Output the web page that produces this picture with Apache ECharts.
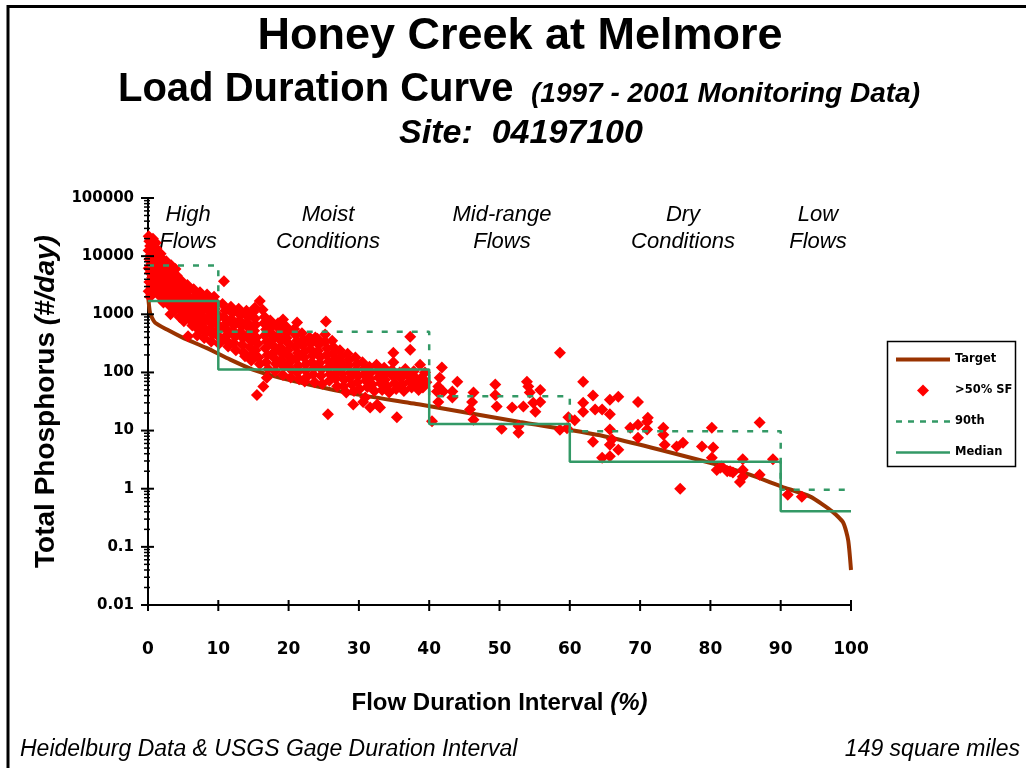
<!DOCTYPE html>
<html>
<head>
<meta charset="utf-8">
<script src="https://cdn.jsdelivr.net/npm/echarts@6/dist/echarts.min.js"></script>
<style>
  html, body { margin: 0; padding: 0; background: #fff; }
  #chart { width: 1026px; height: 768px; }
</style>
</head>
<body>
<div id="chart"></div>
<script>
// flow duration interval (%) ticks and log-axis labels
const xTickValues = [0, 10, 20, 30, 40, 50, 60, 70, 80, 90, 100]
const yTickValues = [0.01, 0.1, 1, 10, 100, 1000, 10000, 100000]
const yTickLabels = ['0.01', '0.1', '1', '10', '100', '1000', '10000', '100000']

// target load curve
const targetX = [0, 0.3, 1.0, 2.7, 5.0, 8.3, 11.7, 14.9, 18.8, 28.3, 38.7, 52.9, 64.3, 80.9, 85.6, 90.2, 94.2, 97.4, 98.9, 99.6, 100]
const targetY = [2200, 1050, 720, 545, 393, 264, 166, 112, 81, 45, 28, 14, 8.3, 2.6, 1.74, 1.08, 0.73, 0.40, 0.26, 0.13, 0.04]

// zone breaks and step values
const zoneBreaks = [0, 10, 40, 60, 90, 100]
const p90Values = [6900, 500, 39, 9.7, 0.96]
const medianValues = [1700, 112, 13, 2.9, 0.41]

// >50% SF observations [flow %, load]
const sfPoints = [
  [0.1,22000],[0.2,18000],[0.3,15000],[0.1,12500],[0.4,10500],[0.2,8800],[0.5,7500],[0.1,6200],[0.3,5200],[0.6,4300],
  [0.2,3600],[0.4,3000],[0.1,2500],[0.5,2200],[0.7,20000],[0.8,16000],[0.9,12000],[0.7,9000],[1.0,7000],[0.9,5500],
  [0.8,4200],[1.0,3300],[0.9,2600],[1.1,17000],[1.2,13500],[1.3,10000],[1.2,7800],[1.4,6000],[1.3,4600],[1.5,3500],
  [1.4,2700],[1.6,2100],[0.3,2000],[0.6,2400],
  [1.8,11000],[2.0,9000],[2.2,7000],[1.9,5600],[2.1,4400],[2.3,3400],[2.0,2600],[2.4,2000],[2.2,1600],[2.6,8200],
  [2.8,6400],[2.7,5000],[2.9,3900],[2.6,3000],[3.0,2300],[2.8,1800],[3.1,1400],[3.3,7000],[3.5,5500],[3.4,4200],
  [3.6,3200],[3.3,2500],[3.7,1900],[3.5,1500],[3.8,1150],[3.9,6000],[4.1,4600],[4.0,3500],[4.2,2700],[4.3,2100],
  [4.0,1650],[4.4,1300],[3.2,1000],[4.5,900],
  [4.7,3800],[5.0,3000],[5.2,2400],[4.8,1900],[5.3,1500],[5.0,1200],[5.4,950],[5.1,760],[5.6,3200],[5.8,2600],
  [5.7,2000],[6.0,1600],[5.9,1250],[6.2,1000],[6.0,800],[6.3,640],[5.7,420],[6.5,2700],[6.7,2100],[6.6,1700],
  [6.9,1350],[6.8,1050],[7.1,850],[6.9,680],[7.2,540],[7.0,430],
  [7.4,2400],[7.6,1900],[7.5,1500],[7.8,1200],[7.7,950],[8.0,760],[7.9,600],[8.2,480],[8.0,390],[8.4,2200],
  [8.6,1750],[8.5,1400],[8.8,1100],[8.7,880],[9.0,700],[8.9,560],[9.2,450],[9.0,340],[9.4,2000],[9.6,1600],
  [9.5,1250],[9.8,1000],[9.7,800],[10.0,640],[9.9,510],[10.2,400],[10.1,310],[10.8,3700],
  [10.6,1500],[11.0,1150],[10.8,900],[11.2,720],[11.0,570],[11.3,450],[11.1,360],[11.4,280],[11.8,1350],[12.0,1050],
  [11.9,820],[12.2,650],[12.1,520],[12.4,410],[12.2,320],[12.5,240],[12.9,1250],[13.1,980],[13.0,780],[13.3,620],
  [13.2,490],[13.5,390],[13.4,300],[13.6,220],[13.8,190],[14.0,1150],[14.2,900],[14.1,720],[14.4,570],[14.3,450],
  [14.6,350],[14.5,270],[14.8,200],[14.7,160],[15.0,1100],[15.2,850],[15.3,660],[15.1,520],[15.4,400],[15.6,310],
  [15.3,240],[15.7,180],[15.9,140],[15.5,41],[16.4,57],[16.9,81],
  [15.9,1700],[15.2,1300],[16.3,1200],[16.6,900],[16.5,700],[16.8,550],[16.6,430],[16.9,340],[16.7,260],[17.0,200],
  [16.8,150],[17.1,115],[17.4,780],[17.6,620],[17.5,480],[17.8,380],[17.7,300],[18.0,230],[17.9,180],[18.2,140],
  [18.1,105],[18.5,700],[18.7,560],[18.6,440],[18.9,350],[18.8,270],[19.1,210],[19.0,165],[19.3,125],[19.2,90],
  [19.6,620],[19.8,490],[19.7,390],[20.0,310],[19.9,240],[20.2,185],[20.1,145],[20.4,110],[20.3,82],[19.2,810],
  [21.2,720],
  [20.8,560],[21.0,440],[21.2,350],[21.0,275],[21.3,215],[21.1,170],[21.4,130],[21.2,100],[21.5,76],[21.9,470],
  [22.1,370],[22.0,290],[22.3,230],[22.2,180],[22.5,140],[22.4,108],[22.6,84],[22.3,70],[23.0,400],[23.2,320],
  [23.1,250],[23.4,195],[23.3,150],[23.6,118],[23.5,92],[23.7,68],[23.8,400],[24.1,380],[24.3,300],[24.2,235],
  [24.5,185],[24.4,145],[24.7,112],[24.6,88],[24.8,64],[25.3,750],[25.2,450],[25.2,340],[25.5,260],[25.4,200],
  [25.7,155],[25.6,120],[25.9,93],[25.8,72],[25.6,19],[26.2,350],[26.4,270],[26.3,210],[26.6,165],[26.5,128],
  [26.8,100],[26.7,78],[26.9,58],
  [27.3,240],[27.5,190],[27.4,150],[27.7,120],[27.6,95],[27.9,75],[27.8,58],[28.2,45],[28.4,210],[28.6,165],
  [28.5,130],[28.8,100],[28.7,80],[29.0,62],[29.2,28],[29.3,48],[29.5,180],[29.7,140],[29.6,110],[29.9,88],
  [29.8,68],[30.1,52],[30.6,31],[30.5,150],[30.8,118],[30.7,92],[31.0,72],[30.9,37],[31.2,56],[31.6,25],
  [31.5,125],[31.7,100],[31.6,78],[31.9,62],[32.2,48],[32.6,28],[32.5,135],[32.7,105],[32.8,82],[33.0,25],
  [33.1,65],[33.3,50],[33.6,120],[33.8,95],[33.7,75],[34.0,58],[34.3,45],[34.9,218],[34.9,150],[34.7,110],
  [34.9,85],[35.1,66],[35.4,17],[35.3,52],[35.8,100],[36.0,80],[36.2,62],[36.4,48],[36.6,115],[37.3,410],
  [37.3,246],[37.0,90],[37.2,70],[37.5,55],[37.8,105],[38.0,82],[38.2,64],[38.7,136],[38.5,50],[38.9,81],
  [39.1,55],[39.4,100],[39.6,68],
  [40.4,14.4],[41.8,121],[41.5,81],[41.3,57],[41.1,47],[42.0,47],[41.3,31],[43.3,37],[43.3,47],[44.0,69],
  [46.3,45],[46.1,31],[45.8,23],[46.3,15.4],[49.4,62],[49.4,41],[49.6,26],[50.3,10.8],[51.8,25],[52.7,12],
  [52.7,9.2],[53.4,26],[53.9,69],[54.1,57],[54.3,45],[54.8,30],[55.1,21],[55.8,50],[55.8,31],[58.6,218],
  [58.6,10.3],[59.8,17],[59.6,11],[60.7,15],[61.9,69],[61.9,30],[61.9,21],[63.3,40],[63.6,23],[63.3,6.4],
  [64.6,23],[65.7,34],[65.7,19],[66.9,38],[65.7,10.4],[64.6,3.4],[66.0,7],[65.7,5.7],[65.7,3.6],[66.9,4.7],
  [69.7,31],[68.6,11.2],[69.7,12.6],[69.7,7.5],[71.0,14.2],[71.1,16.6],[71.0,10.4],[73.3,11.2],[73.3,8.5],[73.5,5.7],
  [75.2,5.3],[76.1,6.2],[75.7,1.0],[78.8,5.3],[80.2,11.2],[80.4,5.1],[80.2,3.4],[80.9,2.1],[81.6,2.4],[82.4,2.0],
  [81.4,2.3],[82.8,2.0],[83.2,1.9],[84.6,3.2],[84.6,2.1],[84.2,1.3],[84.6,1.6],[87.0,1.74],[87.0,13.7],[88.9,3.2],
  [91.0,0.79],[93.0,0.73]
]

function stepLine(values) {
  const pts = []
  values.forEach((v, i) => {
    pts.push([zoneBreaks[i], v])
    pts.push([zoneBreaks[i + 1], v])
  })
  return pts
}

// log-style minor ticks for the y axis
const yMinorTicks = []
yTickValues.slice(0, -1).forEach((d) => {
  for (let m = 2; m < 10; m++) yMinorTicks.push(+(d * m).toPrecision(3))
})
const tickMarks = yTickValues.map((v) => [0, v, 1])
  .concat(yMinorTicks.map((v) => [0, v, 0]))
  .concat(xTickValues.map((v) => [v, 0.01, 2]))

const GREEN = '#339966'
const BROWN = '#993300'
const sans = 'Liberation Sans'

// legend swatches: plain bars / dashes instead of the default line+circle
let dashIcon = 'path://'
for (let i = 0; i < 5; i++) dashIcon += 'M' + (i * 12) + ' 0H' + (i * 12 + 6) + 'V2.5H' + (i * 12) + 'Z'

function txt(text, x, y, size, opts) {
  opts = opts || {}
  return {
    type: 'text', x: x, y: y, silent: true,
    style: {
      text: text,
      fontFamily: sans,
      fontSize: size,
      fontWeight: opts.weight || 'normal',
      fontStyle: opts.style || 'normal',
      lineHeight: opts.lineHeight,
      fill: '#000',
      textAlign: opts.align || 'center', align: opts.align || 'center',
      textVerticalAlign: 'middle', verticalAlign: 'middle',
    },
  }
}

const chart = echarts.init(document.getElementById('chart'))
chart.setOption({
  animation: false,
  backgroundColor: '#fff',
  grid: { left: 148, right: 175, top: 198, bottom: 163 },
  xAxis: {
    type: 'value',
    min: 0,
    max: 100,
    interval: 10,
    name: '{b|Flow Duration Interval}  {i|(%)}',
    nameLocation: 'middle',
    nameGap: 86,
    nameTextStyle: {
      rich: {
        b: { fontFamily: sans, fontWeight: 'bold', fontSize: 24, color: '#000' },
        i: { fontFamily: sans, fontWeight: 'bold', fontStyle: 'italic', fontSize: 24, color: '#000' },
      },
    },
    axisLine: { lineStyle: { color: '#000', width: 2 } },
    axisTick: { show: false },
    splitLine: { show: false },
    axisLabel: {
      margin: 36,
      color: '#000',
      fontFamily: 'DejaVu Sans',
      fontWeight: 'bold',
      fontSize: 17,
    },
  },
  yAxis: {
    type: 'log',
    logBase: 10,
    min: 0.01,
    max: 100000,
    splitNumber: 7,
    name: '{b|Total Phosphorus}  {i|(#/day)}',
    nameLocation: 'middle',
    nameGap: 76,
    nameTextStyle: {
      rich: {
        b: { fontFamily: sans, fontWeight: 'bold', fontSize: 28, color: '#000' },
        i: { fontFamily: sans, fontWeight: 'bold', fontStyle: 'italic', fontSize: 28, color: '#000' },
      },
    },
    axisLine: { show: true, lineStyle: { color: '#000', width: 2 } },
    axisTick: { show: false },
    splitLine: { show: false },
    axisLabel: {
      margin: 14,
      color: '#000',
      fontFamily: 'DejaVu Sans',
      fontWeight: 'bold',
      fontSize: 15,
      formatter: (v) => yTickLabels[Math.round(Math.log10(v)) + 2],
    },
  },
  legend: {
    orient: 'vertical',
    left: 891,
    top: 348.5,
    itemWidth: 54,
    itemHeight: 12,
    itemGap: 19,
    symbolKeepAspect: true,
    textStyle: { fontFamily: 'DejaVu Sans', fontWeight: 'bold', fontSize: 11.5, lineHeight: 12, color: '#000' },
    data: [
      { name: 'Target', icon: 'path://M0 0H54V4H0Z' },
      { name: '>50% SF', icon: 'path://M5 0L10 5L5 10L0 5Z' },
      { name: '90th', icon: dashIcon },
      { name: 'Median', icon: 'path://M0 0H54V2.5H0Z' },
    ],
  },
  graphic: [
    { type: 'line', silent: true, shape: { x1: 8, y1: 6.5, x2: 1026, y2: 6.5 }, style: { stroke: '#000', lineWidth: 3 } },
    { type: 'line', silent: true, shape: { x1: 8, y1: 5, x2: 8, y2: 768 }, style: { stroke: '#000', lineWidth: 3 } },
    { type: 'rect', silent: true, shape: { x: 887.5, y: 341.5, width: 128, height: 125 }, style: { fill: 'none', stroke: '#000', lineWidth: 1.5 } },
    txt('Honey Creek at Melmore', 520, 37, 45, { weight: 'bold' }),
    txt('Load Duration Curve', 118, 90, 40, { weight: 'bold', align: 'left' }),
    txt('(1997 - 2001 Monitoring Data)', 531, 94, 28, { weight: 'bold', style: 'italic', align: 'left' }),
    txt('Site:  04197100', 521, 134, 34, { weight: 'bold', style: 'italic' }),
    txt('High\nFlows', 188, 228, 22, { style: 'italic', lineHeight: 27 }),
    txt('Moist\nConditions', 328, 228, 22, { style: 'italic', lineHeight: 27 }),
    txt('Mid-range\nFlows', 502, 228, 22, { style: 'italic', lineHeight: 27 }),
    txt('Dry\nConditions', 683, 228, 22, { style: 'italic', lineHeight: 27 }),
    txt('Low\nFlows', 818, 228, 22, { style: 'italic', lineHeight: 27 }),
    txt('Heidelburg Data & USGS Gage Duration Interval', 20, 750, 23, { style: 'italic', align: 'left' }),
    txt('149 square miles', 1020, 750, 23, { style: 'italic', align: 'right' }),
  ],
  series: [
    {
      name: 'Target',
      type: 'line',
      z: 1,
      symbol: 'none',
      smooth: 0.2,
      lineStyle: { color: BROWN, width: 4 },
      itemStyle: { color: BROWN },
      data: targetX.map((x, i) => [x, targetY[i]]),
    },
    {
      name: '>50% SF',
      type: 'scatter',
      z: 2,
      symbol: 'diamond',
      symbolSize: 12,
      itemStyle: { color: '#ff0000', opacity: 1 },
      data: sfPoints,
    },
    {
      name: '90th',
      type: 'line',
      z: 3,
      symbol: 'none',
      lineStyle: { color: GREEN, width: 2.5, type: [6, 9] },
      itemStyle: { color: GREEN },
      data: stepLine(p90Values),
    },
    {
      name: 'Median',
      type: 'line',
      z: 3,
      symbol: 'none',
      lineStyle: { color: GREEN, width: 2.5 },
      itemStyle: { color: GREEN },
      data: stepLine(medianValues),
    },
    {
      name: 'ticks',
      type: 'custom',
      z: 4,
      silent: true,
      clip: false,
      data: tickMarks,
      renderItem: (params, api) => {
        const p = api.coord([api.value(0), api.value(1)])
        const kind = api.value(2)
        if (kind === 2) {
          return { type: 'line', shape: { x1: p[0], y1: p[1] - 5, x2: p[0], y2: p[1] + 6 }, style: { stroke: '#000', lineWidth: 2 } }
        }
        const major = kind === 1
        return {
          type: 'line',
          shape: { x1: p[0] - (major ? 7 : 4), y1: p[1], x2: p[0] + (major ? 6 : 2), y2: p[1] },
          style: { stroke: '#000', lineWidth: major ? 2 : 1.5 },
        }
      },
    },
  ],
})
</script>
</body>
</html>
